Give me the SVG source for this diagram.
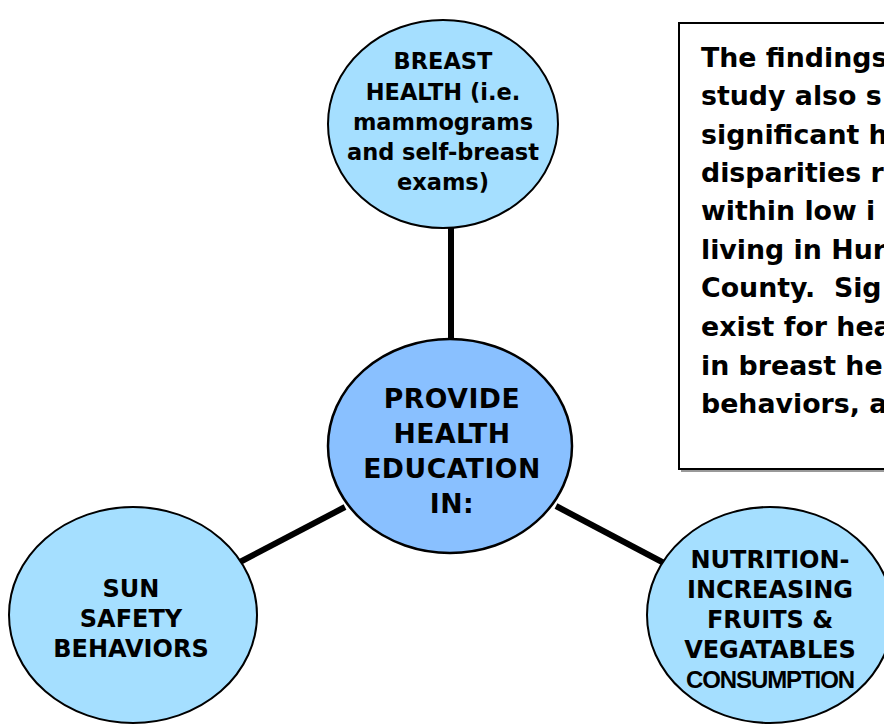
<svg xmlns="http://www.w3.org/2000/svg" width="884" height="725" viewBox="0 0 884 725">
<style>
.outer{fill:#a5dfff;stroke:#000;stroke-width:2}
.center{fill:#89c0ff;stroke:#000;stroke-width:2.5}
.conn{stroke:#000;stroke-width:6;fill:none}
.t{font-family:"DejaVu Sans",Verdana,sans-serif;font-weight:bold;fill:#000;text-anchor:middle}
.sm{font-size:22.5px}
.md{font-size:24px}
.lg{font-size:26.67px;letter-spacing:0.5px}
.box{font-family:"DejaVu Sans",Verdana,sans-serif;font-weight:bold;font-size:26.8px;fill:#000;white-space:pre}
</style>
<rect x="0" y="0" width="884" height="725" fill="#fff"/>
<g id="connectors">
<line class="conn" x1="451" y1="226" x2="451" y2="341"/>
<line class="conn" x1="345" y1="507" x2="240" y2="562"/>
<line class="conn" x1="556" y1="506" x2="664" y2="563"/>
</g>
<g id="textbox">
<line x1="681" y1="471" x2="884" y2="471" stroke="#999" stroke-width="2"/>
<rect x="679" y="23" width="220" height="446" fill="#fff" stroke="#000" stroke-width="2"/>
<text class="box" x="701" y="67">The findings</text>
<text class="box" x="701" y="105">study also s</text>
<text class="box" x="701" y="144">significant h</text>
<text class="box" x="701" y="182">disparities r</text>
<text class="box" x="701" y="220">within low i</text>
<text class="box" x="701" y="259">living in Hur</text>
<text class="box" x="701" y="297" xml:space="preserve">County.  Sig</text>
<text class="box" x="701" y="336">exist for hea</text>
<text class="box" x="701" y="375">in breast he</text>
<text class="box" x="701" y="413">behaviors, a</text>
</g>
<g id="breast">
<ellipse class="outer" cx="443" cy="124" rx="115" ry="104"/>
<text class="t sm" x="443" y="69">BREAST</text>
<text class="t sm" x="443" y="100">HEALTH (i.e.</text>
<text class="t sm" x="443" y="130">mammograms</text>
<text class="t sm" x="443" y="160">and self-breast</text>
<text class="t sm" x="443" y="190">exams)</text>
</g>
<g id="center">
<ellipse class="center" cx="450" cy="446" rx="122" ry="107"/>
<text class="t lg" x="452" y="408">PROVIDE</text>
<text class="t lg" x="452" y="443">HEALTH</text>
<text class="t lg" x="452" y="478">EDUCATION</text>
<text class="t lg" x="452" y="513">IN:</text>
</g>
<g id="sun">
<ellipse class="outer" cx="133" cy="615" rx="124" ry="108"/>
<text class="t md" x="131" y="597">SUN</text>
<text class="t md" x="131" y="627">SAFETY</text>
<text class="t md" x="131" y="657">BEHAVIORS</text>
</g>
<g id="nutrition">
<ellipse class="outer" cx="770" cy="615" rx="123" ry="108"/>
<text class="t md" x="770" y="568">NUTRITION-</text>
<text class="t md" x="770" y="598">INCREASING</text>
<text class="t md" x="770" y="628">FRUITS &amp;</text>
<text class="t md" x="770" y="658">VEGATABLES</text>
<text class="t md" x="770" y="688" style="font-family:'Liberation Sans',Arial,sans-serif;letter-spacing:-1.1px">CONSUMPTION</text>
</g>
</svg>
